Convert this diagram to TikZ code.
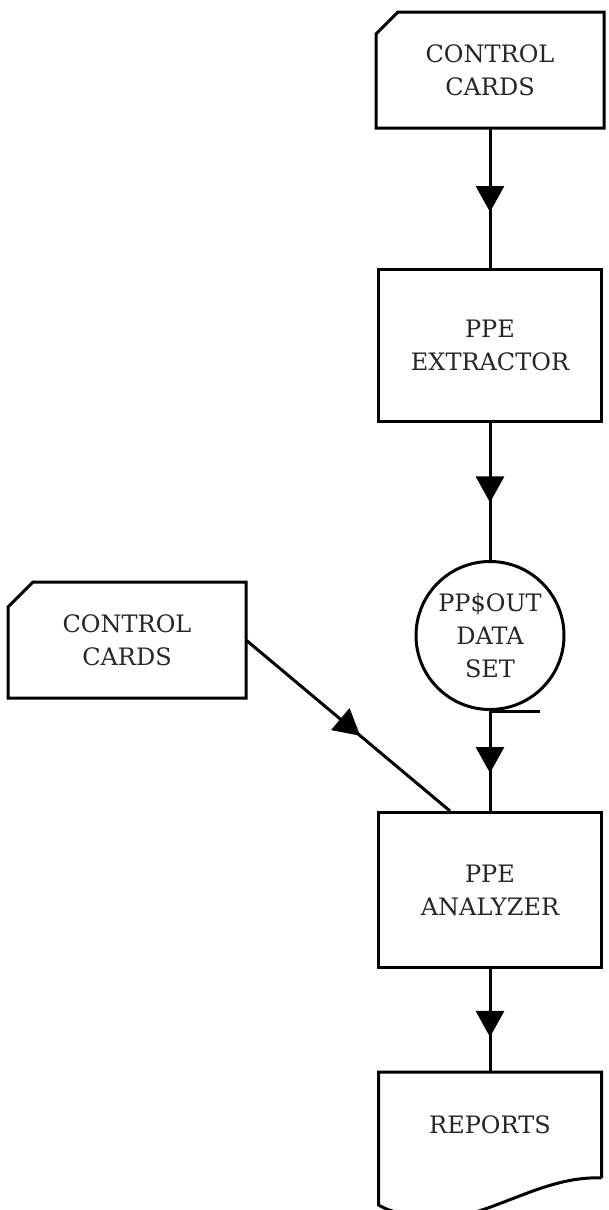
\documentclass[tikz,border=0pt]{standalone}
\usepackage{fontspec}
\setmainfont{DejaVu Serif}
\usepackage{tikz}
\usetikzlibrary{arrows.meta,positioning,calc,decorations.markings}

\begin{document}
\begin{tikzpicture}[x=1pt, y=1pt, line width=3pt, every node/.style={font=\fontsize{24}{33}\selectfont, align=center, text=black!85},
		b/.style={draw, minimum width=223pt, inner sep=0pt},
		card/.style={minimum height=116pt, inner sep=0pt, outer sep=0pt},
		flow/.style={postaction={decorate}, decoration={markings, mark=at position #1 with {\arrow{Triangle[length=26pt,width=28pt]}}}},
		flow/.default=0.6]
		\useasboundingbox (0,0) rectangle (608,-1210);
		\node[card, minimum width=228pt] (cc1) at (490,-70) {CONTROL\\CARDS};
		\node[b, minimum height=152pt, below=140pt of cc1] (ext) {PPE\\EXTRACTOR};
		\node[draw, circle, minimum size=148pt, inner sep=0pt, below=137pt of ext] (tape) {PP\$OUT\\DATA\\SET};
		\node[b, minimum height=155pt, below=100pt of tape] (ana) {PPE\\ANALYZER};
		\node[minimum width=223pt, minimum height=106pt, inner sep=0pt, outer sep=0pt, below=103pt of ana] (rep) {REPORTS};
		\node[card, minimum width=238pt] (cc2) at (127,-640) {CONTROL\\CARDS};
		% card outlines, corner cut top left
		\foreach \c/\k in {cc1/22, cc2/25}
			\draw[line join=miter] ($(\c.north west)+(0,-\k)$) -- ($(\c.north west)+(\k,0)$) -- (\c.north east) -- (\c.south east) -- (\c.south west) -- cycle;
		% document shape
		\draw (rep.south east) -- (rep.north east) -- (rep.north west) -- ($(rep.south west)+(0,-27)$)
			.. controls ($(rep.south west)+(8,-32)$) and ($(rep.south west)+(28,-39)$) .. ($(rep.south west)+(58,-40)$)
			.. controls ($(rep.south west)+(108,-42)$) and ($(rep.south west)+(163,3)$) .. (rep.south east);
		% tape tail
		\draw (tape.south) -- ++(50,0);
		\coordinate (aj) at ($(ana.north west)+(73,0)$);
		\draw[flow] (cc1) -- (ext);
		\draw[flow=0.58] (ext) -- (tape);
		\draw[flow=0.62] (tape) -- (ana);
		\draw[flow=0.66] (ana) -- (rep);
		\draw[flow=0.56] (cc2.east) -- (aj);
	\end{tikzpicture}
\end{document}
